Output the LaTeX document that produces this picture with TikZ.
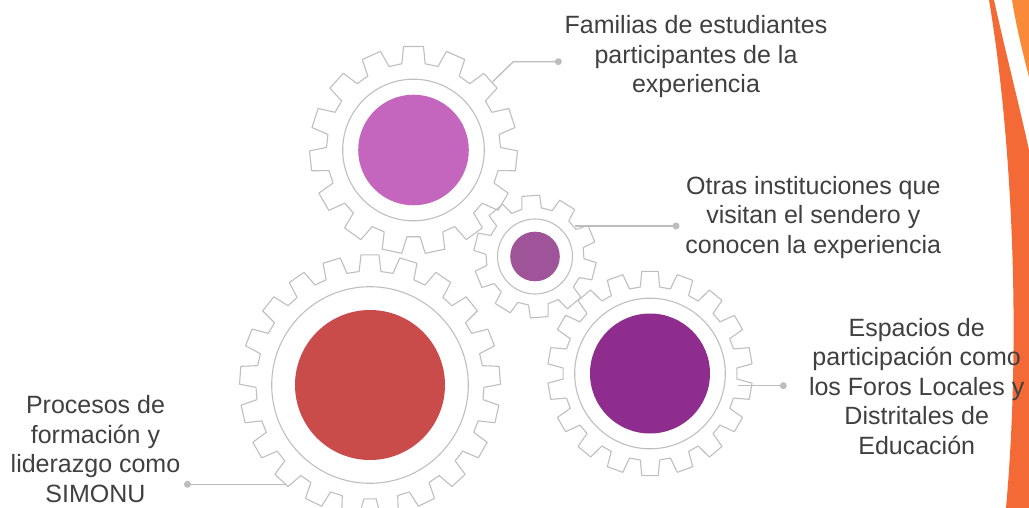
\documentclass[tikz,border=0pt]{standalone}
\usepackage{fontspec}
\setmainfont{Liberation Sans}
\definecolor{geargray}{HTML}{BFBFBF}
\definecolor{conngray}{HTML}{BDBDBD}
\definecolor{txtgray}{HTML}{404040}
\definecolor{cpink}{HTML}{C465BE}
\definecolor{cplum}{HTML}{9F5399}
\definecolor{cred}{HTML}{C94C4B}
\definecolor{cpurple}{HTML}{8E2D8D}
\definecolor{odark}{HTML}{F46A37}
\definecolor{olight}{HTML}{F88A3A}
\newcommand\drawgear[5]{% center, teeth, root radius, tip radius, phase
  \pgfmathsetmacro\gearP{360/#2}%
  \pgfmathsetmacro\gearT{0.23*\gearP}%
  \pgfmathsetmacro\gearR{0.32*\gearP}%
  \draw[gearline,shift={(#1)}] (#5-\gearR:#3)
    \foreach \i in {1,...,#2}{
      -- (#5+\i*\gearP-\gearP-\gearR:#3)
      -- (#5+\i*\gearP-\gearP-\gearT:#4)
      -- (#5+\i*\gearP-\gearP+\gearT:#4)
      -- (#5+\i*\gearP-\gearP+\gearR:#3)
    } -- cycle;
}
\begin{document}
\begin{tikzpicture}[x=1pt,y=-1pt,
  gearline/.style={draw=geargray,line width=1.1pt,line join=round},
  conn/.style={draw=conngray,line width=1.3pt},
  dotnode/.style={circle,fill=conngray,inner sep=0pt,minimum size=7pt},
  lbltext/.style={font=\fontsize{25}{29.5}\selectfont,text=txtgray,align=center,anchor=north,inner sep=0pt}]
\useasboundingbox (0,0) rectangle (1029,508);
\fill[white] (0,0) rectangle (1029,508);
% gear centres
\coordinate (g1) at (413.5,150);
\coordinate (g2) at (535,256.5);
\coordinate (g3) at (370,385);
\coordinate (g4) at (650,373.5);
% gear outlines
\drawgear{g1}{15}{87}{104}{270}
\drawgear{g2}{10}{49}{61.5}{266}
\drawgear{g3}{21}{114}{130.5}{270}
\drawgear{g4}{18}{87}{102.5}{270}
% rings
\draw[gearline] (g1) circle[radius=70.8];
\draw[gearline] (g2) circle[radius=37.5];
\draw[gearline] (g3) circle[radius=98.3];
\draw[gearline] (g4) circle[radius=75.3];
% fills
\fill[cpink] (g1) circle[radius=55.3];
\fill[cplum] (g2) circle[radius=24.8];
\fill[cred] (g3) circle[radius=75];
\fill[cpurple] (g4) circle[radius=60];
% connectors
\coordinate (c1a) at (492.7,81.7);
\coordinate (c1b) at (513.3,61.7);
\node[dotnode] (d1) at (558.3,61.7) {};
\draw[conn] (c1a) -- (c1b) -- (d1.center);
\coordinate (c2a) at (575,226);
\node[dotnode] (d2) at (676,226) {};
\draw[conn] (c2a) -- (d2.center);
\coordinate (c3a) at (738,385.7);
\node[dotnode] (d3) at (783.3,385.7) {};
\draw[conn] (c3a) -- (d3.center);
\coordinate (c4a) at (286,484.3);
\node[dotnode] (d4) at (187.5,484.3) {};
\draw[conn] (c4a) -- (d4.center);
% orange decoration
\fill[odark] (989,0) .. controls (1011,130) and (1022,330) .. (1006,508) -- (1029,508) -- (1029,150) .. controls (1018,100) and (1005,50) .. (994,0) -- cycle;
\fill[olight] (1012,0) -- (1029,0) -- (1029,77) .. controls (1022,50) and (1016,25) .. (1012,0) -- cycle;
% texts
\node[lbltext] (t1) at (696,15.3) {Familias de estudiantes\\participantes de la\\experiencia};
\node[lbltext] (t2) at (813.3,176) {Otras instituciones que\\visitan el sendero y\\conocen la experiencia};
\node[lbltext] (t3) at (916.7,318) {Espacios de\\participación como\\los Foros Locales y\\Distritales de\\Educación};
\node[lbltext] (t4) at (95.5,395.3) {Procesos de\\formación y\\liderazgo como\\SIMONU};
\end{tikzpicture}
\end{document}
